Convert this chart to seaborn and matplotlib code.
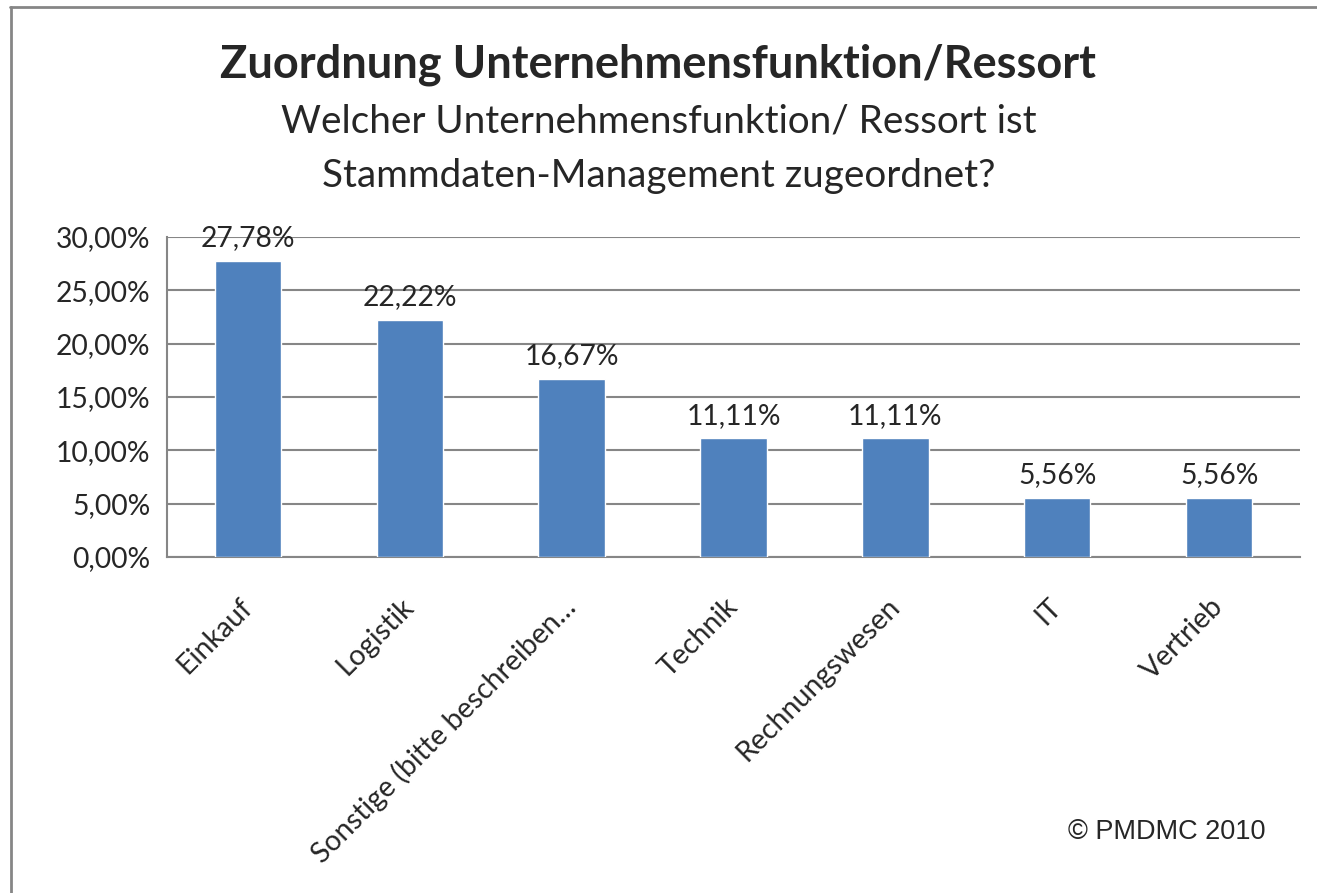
import matplotlib
matplotlib.use("Agg")
import matplotlib.pyplot as plt
import matplotlib.ticker as mticker
from matplotlib.lines import Line2D
import pandas as pd
import seaborn as sns

sns.set_style("white")
plt.rcParams["font.family"] = ["Lato", "DejaVu Sans"]

# data
categories = ["Einkauf", "Logistik", "Sonstige (bitte beschreiben…", "Technik",
              "Rechnungswesen", "IT", "Vertrieb"]
shares = [0.2778, 0.2222, 0.1667, 0.1111, 0.1111, 0.0556, 0.0556]
yticks = [0.0, 0.05, 0.10, 0.15, 0.20, 0.25, 0.30]

df = pd.DataFrame({"cat": categories, "share": shares})

grey = "#868686"
blue = "#4F81BD"

fig = plt.figure(figsize=(13.17, 8.93), dpi=100)
ax = fig.add_axes([0.1268, 0.3763, 0.8603, 0.3583])

sns.barplot(data=df, x="cat", y="share", color=blue, width=0.41,
            saturation=1, ax=ax, zorder=3)

ax.set_xlim(-0.5, len(categories) - 0.5)
ax.set_ylim(0, 0.30)
ax.set_yticks(yticks)
ax.yaxis.set_major_formatter(
    mticker.FuncFormatter(lambda v, p: f"{v * 100:.2f}%".replace(".", ",")))
ax.yaxis.grid(True, color=grey, linewidth=1.5, zorder=0)
ax.set_axisbelow(True)

# labels at bar centers, tick marks at category boundaries
ax.set_xticks(range(len(categories)))
ax.set_xticklabels(categories, rotation=45, ha="right", va="center",
                   rotation_mode="anchor")
ax.set_xticks([i - 0.5 for i in range(len(categories) + 1)], minor=True)
ax.tick_params(axis="x", which="major", length=0, pad=33, labelsize=20.5)
ax.tick_params(axis="x", which="minor", length=8, width=1.5, color=grey,
               direction="out")
ax.tick_params(axis="y", length=8, width=1.5, color=grey, direction="out",
               labelsize=20.3, pad=4)

for s in ["top", "right"]:
    ax.spines[s].set_visible(False)
for s in ["left", "bottom"]:
    ax.spines[s].set_color(grey)
    ax.spines[s].set_linewidth(1.5)

ax.set_xlabel("")
ax.set_ylabel("")

for i, v in enumerate(shares):
    ax.annotate(f"{v * 100:.2f}%".replace(".", ","), (i, v), xytext=(0, 7),
                textcoords="offset points", ha="center", va="bottom",
                fontsize=20.3)

fig.text(0.5, 1 - 78 / 893, "Zuordnung Unternehmensfunktion/Ressort",
         ha="center", va="baseline", fontsize=32.5, fontweight="bold")
fig.text(0.5, 1 - 133 / 893, "Welcher Unternehmensfunktion/ Ressort ist",
         ha="center", va="baseline", fontsize=27.8)
fig.text(0.5, 1 - 187 / 893, "Stammdaten-Management zugeordnet?",
         ha="center", va="baseline", fontsize=27.8)
fig.text(1167 / 1317, 1 - 832 / 893, "© PMDMC 2010", ha="center",
         va="center", fontsize=19.5, family="Liberation Sans")

# chart border (only top and left edges visible in the crop)
fig.add_artist(Line2D([10 / 1317, 1], [1 - 7 / 893] * 2, color=grey,
                      linewidth=2, transform=fig.transFigure))
fig.add_artist(Line2D([11 / 1317] * 2, [0, 1 - 7 / 893], color=grey,
                      linewidth=2, transform=fig.transFigure))

fig.savefig("out.png", dpi=100)
